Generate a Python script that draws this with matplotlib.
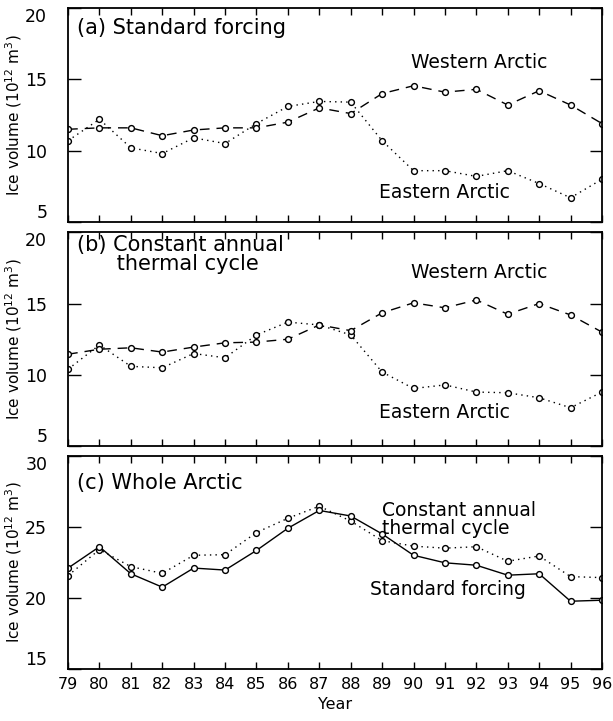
import matplotlib.pyplot as plt
import numpy as np

# --- DATA ---
years = np.arange(79, 97)
year_labels = [str(y) for y in years]

# (a) standard forcing
west_std = [11.5, 11.6, 11.6, 11.05, 11.45, 11.6, 11.6, 12.0, 13.0, 12.6,
            14.0, 14.55, 14.1, 14.3, 13.2, 14.2, 13.2, 11.9]
east_std = [10.7, 12.2, 10.2, 9.8, 10.9, 10.5, 11.9, 13.1, 13.45, 13.4,
            10.7, 8.6, 8.6, 8.2, 8.6, 7.7, 6.7, 8.0]

# (b) constant annual thermal cycle
west_const = [11.45, 11.8, 11.9, 11.6, 11.95, 12.25, 12.3, 12.5, 13.5, 13.1,
              14.35, 15.05, 14.7, 15.25, 14.25, 15.0, 14.2, 13.0]
east_const = [10.4, 12.1, 10.6, 10.5, 11.5, 11.2, 12.8, 13.7, 13.5, 12.8,
              10.2, 9.05, 9.3, 8.8, 8.75, 8.4, 7.7, 8.8]

# (c) whole Arctic
whole_std = [22.1, 23.6, 21.7, 20.76, 22.1, 21.96, 23.34, 24.9, 26.15, 25.76,
             24.5, 23.0, 22.47, 22.3, 21.6, 21.7, 19.77, 19.84]
whole_const = [21.57, 23.4, 22.2, 21.73, 23.0, 23.04, 24.6, 25.6, 26.45, 25.4,
               24.03, 23.64, 23.5, 23.6, 22.58, 22.95, 21.5, 21.43]

plt.rcParams['font.family'] = ['DejaVu Sans']

fig = plt.figure(figsize=(6.13, 7.21), dpi=100)
ax_a = fig.add_axes([0.111, 0.692, 0.871, 0.297])
ax_b = fig.add_axes([0.111, 0.381, 0.871, 0.297])
ax_c = fig.add_axes([0.111, 0.072, 0.871, 0.296])

common = dict(color='black', linewidth=1.0, marker='o', markersize=4.2,
              markerfacecolor='white', markeredgewidth=1.0)
dash_style = dict(linestyle=(0, (7, 5)), **common)
dot_style = dict(linestyle=(0, (1, 3)), **common)
solid_style = dict(linestyle='-', **common)

ylabel = 'Ice volume (10$^{12}$ m$^3$)'

# Panel a
ax_a.plot(years, east_std, **dot_style)
ax_a.plot(years, west_std, **dash_style)
ax_a.set_ylim(5, 20)
ax_a.set_yticks([5, 10, 15, 20])
ax_a.text(79.3, 18.6, '(a) Standard forcing', fontsize=15, va='center')
ax_a.text(92.1, 16.2, 'Western Arctic', fontsize=13.5, ha='center', va='center')
ax_a.text(91.0, 7.1, 'Eastern Arctic', fontsize=13.5, ha='center', va='center')

# Panel b
ax_b.plot(years, east_const, **dot_style)
ax_b.plot(years, west_const, **dash_style)
ax_b.set_ylim(5, 20)
ax_b.set_yticks([5, 10, 15, 20])
ax_b.text(79.3, 19.8, '(b) Constant annual\n      thermal cycle', fontsize=15,
          va='top', linespacing=0.95)
ax_b.text(92.1, 17.2, 'Western Arctic', fontsize=13.5, ha='center', va='center')
ax_b.text(91.0, 7.4, 'Eastern Arctic', fontsize=13.5, ha='center', va='center')

# Panel c
ax_c.plot(years, whole_const, **dot_style)
ax_c.plot(years, whole_std, **solid_style)
ax_c.set_ylim(15, 30)
ax_c.set_yticks([15, 20, 25, 30])
ax_c.text(79.3, 28.1, '(c) Whole Arctic', fontsize=15, va='center')
ax_c.text(89.0, 25.5, 'Constant annual\nthermal cycle', fontsize=13.5,
          va='center', linespacing=0.95)
ax_c.text(88.6, 20.6, 'Standard forcing', fontsize=13.5, va='center')

for ax in (ax_a, ax_b, ax_c):
    ax.set_xlim(79, 96)
    ax.set_xticks(years)
    ax.tick_params(axis='x', direction='in', length=5, width=1, top=True,
                   labelsize=11.5, pad=6)
    ax.tick_params(axis='y', direction='in', length=9, width=1, right=True,
                   labelsize=12.5, pad=15)
    ax.set_ylabel(ylabel, fontsize=11, labelpad=1)
    for s in ax.spines.values():
        s.set_linewidth(1.3)
    # end labels sit inside the frame height, like the original
    ylabs = ax.get_yticklabels()
    ylabs[0].set_verticalalignment('bottom')
    ylabs[-1].set_verticalalignment('top')

ax_a.tick_params(axis='x', labelbottom=False)
ax_b.tick_params(axis='x', labelbottom=False)
ax_c.set_xticklabels(year_labels)
ax_c.set_xlabel('Year', fontsize=11.5, labelpad=3)

fig.savefig('out.png', dpi=100)
